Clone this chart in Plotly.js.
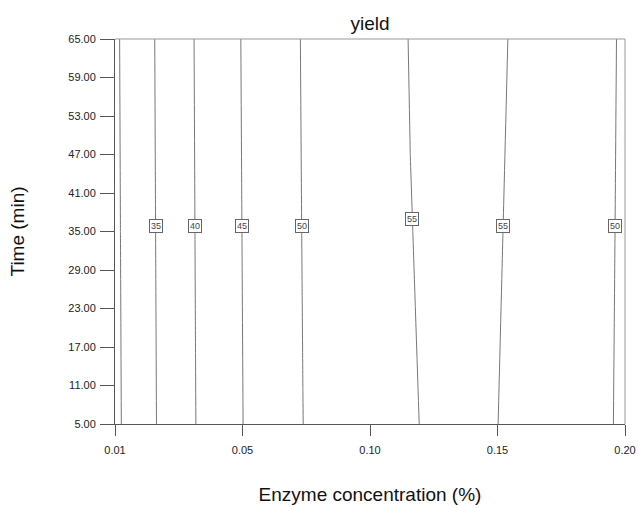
<!DOCTYPE html>
<html>
<head>
<meta charset="utf-8">
<script src="https://cdn.plot.ly/plotly-3.0.1.min.js"></script>
<style>html,body{margin:0;padding:0;background:#fff;}#chart{width:638px;height:508px;}</style>
</head>
<body>
<div id="chart"></div>
<script>
// Enzyme concentration (%) grid
var enzyme = [0.01,0.02,0.03,0.04,0.05,0.06,0.07,0.08,0.09,0.10,0.11,0.12,0.13,0.14,0.15,0.16,0.17,0.18,0.19,0.20];
// Time (min) grid
var time = [5, 35, 65];
// yield values estimated from the contour positions
var yieldT5  = [29.07,33.02,36.65,39.96,42.94,45.61,47.95,49.98,51.68,53.06,54.12,54.86,55.28,55.37,55.15,54.60,53.74,52.55,51.04,49.21];
var yieldT35 = [29.20,33.14,36.77,40.07,43.06,45.72,48.06,50.09,51.79,53.17,54.22,54.96,55.38,55.47,55.25,54.70,53.84,52.65,51.15,49.32];
var yieldT65 = [29.32,33.26,36.88,40.18,43.17,45.83,48.17,50.19,51.89,53.27,54.32,55.06,55.48,55.57,55.35,54.80,53.94,52.75,51.25,49.42];

// contour label settings
var labelLevels = [35, 40, 45, 50, 55, 55, 50];
var labelSide   = ['up','up','up','up','up','down','down'];
var labelTimes  = [35.9, 35.9, 35.9, 35.9, 36.9, 35.9, 35.9];

// axis ticks
var xTickVals = [0.01, 0.0575, 0.105, 0.1525, 0.20];
var xTickText = ['0.01', '0.05', '0.10', '0.15', '0.20'];

var zRows = [yieldT5, yieldT35, yieldT65];

function rowAt(t) {
  var i = 0;
  while (i < time.length - 2 && t > time[i + 1]) i++;
  var f = (t - time[i]) / (time[i + 1] - time[i]);
  return zRows[i].map(function (v, k) { return v + f * (zRows[i + 1][k] - v); });
}
function crossing(level, side, t) {
  var r = rowAt(t);
  for (var k = 0; k < r.length - 1; k++) {
    var a = r[k], b = r[k + 1];
    var ok = side === 'up' ? (a <= level && b > level) : (a >= level && b < level);
    if (ok) return enzyme[k] + (level - a) / (b - a) * (enzyme[k + 1] - enzyme[k]);
  }
  return null;
}

var annotations = labelLevels.map(function (lv, i) {
  return {
    x: crossing(lv, labelSide[i], labelTimes[i]), y: labelTimes[i],
    xref: 'x', yref: 'y', text: String(lv), showarrow: false,
    font: {family: 'Liberation Sans, Arial, sans-serif', size: 9, color: '#444'},
    bgcolor: '#fff', bordercolor: '#666', borderwidth: 1, borderpad: 1
  };
});

var trace = {
  type: 'contour', x: enzyme, y: time, z: zRows,
  contours: {start: 30, end: 55, size: 5, coloring: 'none', showlabels: false},
  line: {color: '#777', width: 1, smoothing: 0},
  showscale: false, hoverinfo: 'skip'
};

var font = 'Liberation Sans, Arial, sans-serif';
var layout = {
  width: 638, height: 508,
  margin: {l: 115, r: 13, t: 39, b: 84},
  paper_bgcolor: '#fff', plot_bgcolor: '#fff',
  font: {family: font, color: '#222'},
  title: {text: 'yield', font: {family: font, size: 19, color: '#111'}, xref: 'paper', x: 0.5, xanchor: 'center', yref: 'container', y: 0.955, yanchor: 'middle'},
  xaxis: {
    range: [0.01, 0.20], tickvals: xTickVals, ticktext: xTickText,
    ticks: 'outside', ticklen: 11, tickcolor: '#555', tickwidth: 1, ticklabelstandoff: 5,
    showline: true, linecolor: '#555', linewidth: 1, showgrid: false, zeroline: false,
    tickfont: {family: font, size: 11, color: '#222'},
    title: {text: 'Enzyme concentration (%)', font: {family: font, size: 19, color: '#111'}, standoff: 32}
  },
  yaxis: {
    range: [5, 65], tick0: 5, dtick: 6, tickformat: '.2f',
    ticks: 'outside', ticklen: 14, tickcolor: '#555', tickwidth: 1, ticklabelstandoff: 2,
    showline: true, linecolor: '#555', linewidth: 1, showgrid: false, zeroline: false,
    tickfont: {family: font, size: 11, color: '#222'},
    title: {text: 'Time (min)', font: {family: font, size: 19, color: '#111'}, standoff: 38}
  },
  shapes: [
    {type: 'line', xref: 'paper', yref: 'paper', x0: 0, x1: 1, y0: 1, y1: 1, line: {color: '#999', width: 1}},
    {type: 'line', xref: 'paper', yref: 'paper', x0: 1, x1: 1, y0: 0, y1: 1, line: {color: '#999', width: 1}}
  ],
  annotations: annotations,
  showlegend: false
};

Plotly.newPlot('chart', [trace], layout, {displayModeBar: false, staticPlot: true});
</script>
</body>
</html>
